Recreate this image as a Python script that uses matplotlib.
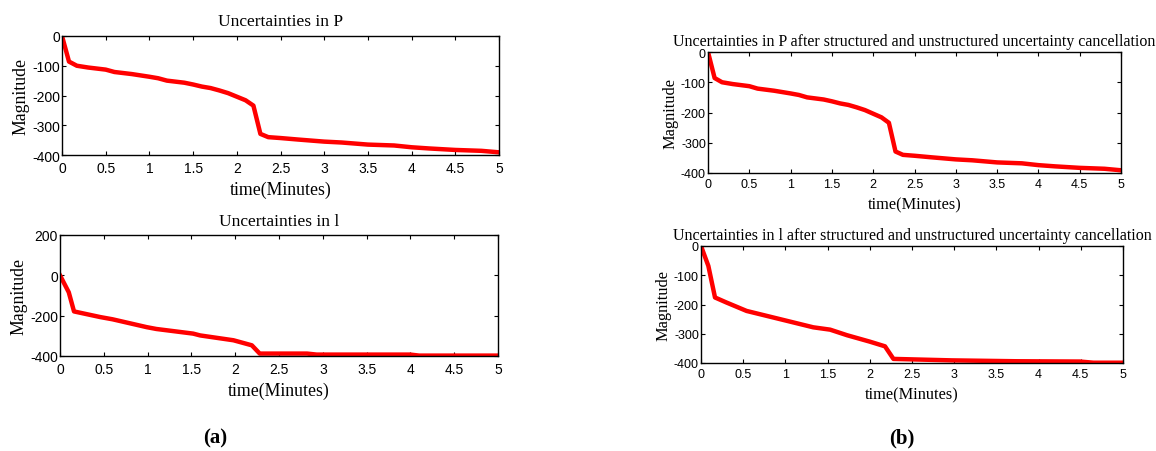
import matplotlib
matplotlib.use("Agg")
import matplotlib.pyplot as plt

# Data: uncertainties in P (same curve in both panels)
t_P = [0, 0.08, 0.17, 0.3, 0.5, 0.6, 0.8, 1.0, 1.1, 1.2, 1.4, 1.5, 1.6, 1.7, 1.8, 1.9,
       2.0, 2.1, 2.19, 2.27, 2.36, 2.5, 2.7, 3.0, 3.2, 3.5, 3.8, 4.0, 4.2, 4.5, 4.8, 5.0]
v_P = [0, -86, -100, -106, -113, -121, -128, -137, -142, -150, -157, -163, -170, -175, -183, -192,
       -204, -216, -234, -329, -340, -343, -348, -355, -358, -365, -368, -374, -378, -383, -386, -391]

# Data: uncertainties in l (panel a)
t_la = [0, 0.1, 0.16, 0.46, 0.6, 0.99, 1.1, 1.52, 1.6, 1.98, 2.19, 2.28, 2.82, 2.93, 4.0, 4.1, 5.0]
v_la = [0, -84, -179, -207, -218, -257, -266, -289, -298, -322, -347, -388, -388, -393, -393, -398, -398]

# Data: uncertainties in l after cancellation (panel b)
t_lb = [0, 0.087, 0.166, 0.3, 0.54, 0.78, 1.02, 1.33, 1.53, 1.73, 2.0, 2.18, 2.28, 2.97, 3.74, 4.49, 4.65, 5.0]
v_lb = [0, -68, -176, -193, -222, -239, -256, -278, -286, -305, -327, -343, -386, -391, -394, -395, -399, -399]

x_ticks = [0, 0.5, 1, 1.5, 2, 2.5, 3, 3.5, 4, 4.5, 5]
x_tick_labels = ["0", "0.5", "1", "1.5", "2", "2.5", "3", "3.5", "4", "4.5", "5"]

W, H = 1156, 452
fig = plt.figure(figsize=(W / 100, H / 100), dpi=100)

serif = "Liberation Serif"
sans = "Liberation Sans"


def make_axes(l, r, t, b):
    return fig.add_axes([l / W, (H - b) / H, (r - l) / W, (b - t) / H])


def style(ax, title, ylim, yticks, title_fs, tick_fs, lab_fs, tpad, xpad, xlpad):
    ax.set_xlim(0, 5)
    ax.set_ylim(*ylim)
    ax.set_xticks(x_ticks)
    ax.set_xticklabels(x_tick_labels, fontfamily=sans, fontsize=tick_fs)
    ax.set_yticks(yticks)
    ax.set_yticklabels([str(v) for v in yticks], fontfamily=sans, fontsize=tick_fs)
    ax.tick_params(direction="in", top=True, right=True, length=3, width=0.8)
    ax.tick_params(axis="y", pad=1.5)
    ax.tick_params(axis="x", pad=xpad)
    for s in ax.spines.values():
        s.set_linewidth(1.0)
    ax.set_title(title, fontfamily=serif, fontsize=title_fs, pad=tpad)
    ax.set_xlabel("time(Minutes)", fontfamily=serif, fontsize=lab_fs, labelpad=xlpad)
    ax.set_ylabel("Magnitude", fontfamily=serif, fontsize=lab_fs, labelpad=2)


red = "#ff0000"

ax1 = make_axes(62, 499, 37, 156)
ax1.plot(t_P, v_P, color=red, lw=3.2, solid_joinstyle="round")
style(ax1, "Uncertainties in P", (-400, 0), [0, -100, -200, -300, -400],
      12.5, 10, 12.8, 8, 4.5, 4)

ax2 = make_axes(60, 498, 236, 357)
ax2.plot(t_la, v_la, color=red, lw=3.2, solid_joinstyle="round")
style(ax2, "Uncertainties in l", (-400, 200), [200, 0, -200, -400],
      12.5, 10, 12.8, 7, 4.5, 4)

ax3 = make_axes(708, 1121, 53, 174)
ax3.plot(t_P, v_P, color=red, lw=3.2, solid_joinstyle="round")
style(ax3, "Uncertainties in P after structured and unstructured uncertainty cancellation",
      (-400, 0), [0, -100, -200, -300, -400], 11.5, 9, 11.8, 5, 3.5, 4.5)

ax4 = make_axes(701, 1123, 247, 364)
ax4.plot(t_lb, v_lb, color=red, lw=3.2, solid_joinstyle="round")
style(ax4, "Uncertainties in l after structured and unstructured uncertainty cancellation",
      (-400, 0), [0, -100, -200, -300, -400], 11.5, 9, 11.8, 5, 3.5, 4.5)

fig.text(215 / W, 1 - 438 / H, "(a)", fontfamily=serif, fontweight="bold", fontsize=15,
         ha="center", va="center")
fig.text(902 / W, 1 - 438 / H, "(b)", fontfamily=serif, fontweight="bold", fontsize=15,
         ha="center", va="center")

fig.savefig("out.png", dpi=100)
